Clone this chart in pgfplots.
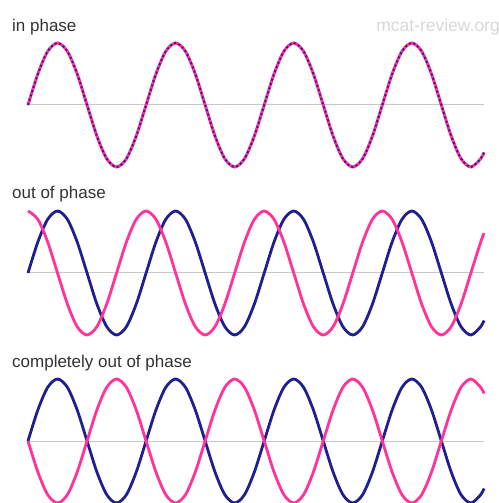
\documentclass[border=0pt]{standalone}
\usepackage{pgfplots}
\usepackage{pgfplotstable}
\pgfplotsset{compat=1.18}
\usepackage{fontspec}
\setmainfont{Liberation Sans}
\definecolor{wblue}{HTML}{1F1F8F}
\definecolor{wpink}{HTML}{FF3399}
\definecolor{wgray}{HTML}{C8C8C8}
\definecolor{tgray}{HTML}{333333}
\definecolor{mgray}{HTML}{D8D8D8}
\pgfplotstableread{
x s c n
0 0 1 0
30 0.5 0.866 -0.5
60 0.866 0.5 -0.866
90 1 0 -1
120 0.866 -0.5 -0.866
150 0.5 -0.866 -0.5
180 0 -1 0
210 -0.5 -0.866 0.5
240 -0.866 -0.5 0.866
270 -1 0 1
300 -0.866 0.5 0.866
330 -0.5 0.866 0.5
360 0 1 0
390 0.5 0.866 -0.5
420 0.866 0.5 -0.866
450 1 0 -1
480 0.866 -0.5 -0.866
510 0.5 -0.866 -0.5
540 0 -1 0
570 -0.5 -0.866 0.5
600 -0.866 -0.5 0.866
630 -1 0 1
660 -0.866 0.5 0.866
690 -0.5 0.866 0.5
720 0 1 0
750 0.5 0.866 -0.5
780 0.866 0.5 -0.866
810 1 0 -1
840 0.866 -0.5 -0.866
870 0.5 -0.866 -0.5
900 0 -1 0
930 -0.5 -0.866 0.5
960 -0.866 -0.5 0.866
990 -1 0 1
1020 -0.866 0.5 0.866
1050 -0.5 0.866 0.5
1080 0 1 0
1110 0.5 0.866 -0.5
1140 0.866 0.5 -0.866
1170 1 0 -1
1200 0.866 -0.5 -0.866
1230 0.5 -0.866 -0.5
1260 0 -1 0
1290 -0.5 -0.866 0.5
1320 -0.866 -0.5 0.866
1350 -1 0 1
1380 -0.866 0.5 0.866
1390 -0.766 0.643 0.766
}\wave
\pgfplotsset{wavepanel/.style={scale only axis, width=456bp, height=124bp,
  xmin=0, xmax=1390, ymin=-1, ymax=1, hide axis, clip=false, anchor=south west}}
\begin{document}
\begin{tikzpicture}
\useasboundingbox (0,0) rectangle (499bp,503bp);
\fill[white] (0,0) rectangle (499bp,503bp);
\tikzset{lbl/.style={anchor=base west, text=tgray, font=\fontsize{17bp}{20bp}\selectfont, inner sep=0pt}}
\node[lbl] at (12bp,471bp) {in phase};
\node[lbl] at (12bp,304bp) {out of phase};
\node[lbl] at (12bp,135bp) {completely out of phase};
\node[anchor=base east, text=mgray, font=\fontsize{17.5bp}{20bp}\selectfont, inner sep=0pt] at (500bp,471bp) {mcat-review.org};
% panel 1
\begin{axis}[wavepanel, at={(28bp,336bp)}]
\addplot[wgray, line width=1bp] coordinates {(0,0) (1390,0)};
\addplot[wpink, line width=3bp, smooth] table[x=x, y=s] {\wave};
\addplot[wblue, line width=1.8bp, smooth, dash pattern=on 2bp off 2.5bp] table[x=x, y=s] {\wave};
\end{axis}
% panel 2
\begin{axis}[wavepanel, at={(28bp,168bp)}]
\addplot[wgray, line width=1bp] coordinates {(0,0) (1390,0)};
\addplot[wblue, line width=2.8bp, smooth] table[x=x, y=s] {\wave};
\addplot[wpink, line width=2.8bp, smooth] table[x=x, y=c] {\wave};
\end{axis}
% panel 3
\begin{axis}[wavepanel, at={(28bp,0bp)}]
\addplot[wgray, line width=1bp] coordinates {(0,0) (1390,0)};
\addplot[wblue, line width=2.8bp, smooth] table[x=x, y=s] {\wave};
\addplot[wpink, line width=2.8bp, smooth] table[x=x, y=n] {\wave};
\end{axis}
\end{tikzpicture}
\end{document}
